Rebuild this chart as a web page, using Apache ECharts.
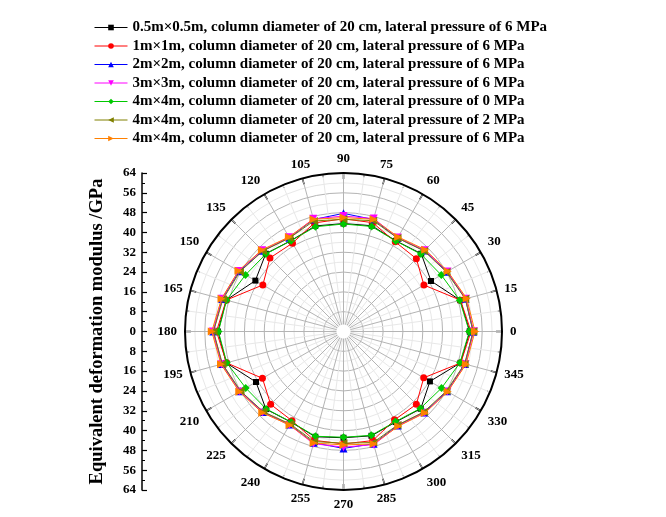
<!DOCTYPE html>
<html>
<head>
<meta charset="utf-8">
<script src="https://cdn.jsdelivr.net/npm/echarts@6/dist/echarts.min.js"></script>
<style>
  html, body { margin: 0; padding: 0; background: #ffffff; }
  #chart { width: 666px; height: 517px; }
</style>
</head>
<body>
<div id="chart"></div>
<script>
// Measurement directions (degrees)
const angles = [0, 15, 30, 45, 60, 75, 90, 105, 120, 135, 150, 165,
                180, 195, 210, 225, 240, 255, 270, 285, 300, 315, 330, 345];

// Equivalent deformation modulus (GPa) for each direction
const s05m_6MPa = [51.0, 48.8, 40.8, 44.4, 42.3, 44.2, 43.6, 44.1, 42.4, 44.4, 41.1, 49.0,
                   50.7, 49.0, 40.8, 44.3, 42.3, 44.0, 42.9, 43.6, 42.2, 44.1, 40.3, 48.9];
const s1m_6MPa   = [51.5, 48.9, 37.5, 41.6, 41.8, 45.5, 45.5, 45.4, 41.2, 42.0, 37.6, 49.0,
                   51.3, 48.9, 37.8, 41.6, 41.6, 45.5, 45.4, 45.6, 41.2, 41.6, 37.4, 49.0];
const s2m_6MPa   = [52.3, 51.0, 48.3, 46.2, 43.6, 46.8, 47.7, 46.8, 43.7, 46.1, 48.6, 50.7,
                   52.6, 50.8, 48.2, 46.0, 43.4, 46.5, 47.2, 46.9, 43.8, 46.2, 48.3, 50.8];
const s3m_6MPa   = [52.6, 51.2, 48.5, 46.4, 43.8, 47.2, 46.6, 47.1, 43.9, 46.4, 48.9, 50.9,
                   52.8, 51.0, 48.4, 46.2, 43.6, 46.9, 46.7, 47.3, 44.0, 46.4, 48.5, 51.0];
const s4m_0MPa   = [50.8, 48.6, 45.6, 44.2, 42.2, 43.9, 43.4, 43.8, 42.3, 44.3, 45.7, 48.9,
                   50.5, 48.8, 45.6, 44.2, 42.2, 43.8, 42.7, 43.4, 42.0, 43.9, 45.7, 48.7];
const s4m_2MPa   = [52.4, 50.9, 48.0, 46.0, 43.6, 46.3, 45.3, 46.2, 43.6, 46.0, 48.3, 50.4,
                   52.5, 50.6, 48.0, 45.8, 43.1, 46.0, 45.1, 46.4, 43.6, 45.9, 48.0, 50.6];
const s4m_6MPa   = [53.1, 51.5, 48.6, 46.7, 44.1, 46.9, 46.0, 46.9, 44.1, 46.6, 49.0, 51.0,
                   53.2, 51.2, 48.6, 46.4, 43.6, 46.6, 45.8, 47.0, 44.2, 46.5, 48.6, 51.2];

const seriesNames = [
  '0.5m×0.5m, column diameter of 20 cm, lateral pressure of 6 MPa',
  '1m×1m, column diameter of 20 cm, lateral pressure of 6 MPa',
  '2m×2m, column diameter of 20 cm, lateral pressure of 6 MPa',
  '3m×3m, column diameter of 20 cm, lateral pressure of 6 MPa',
  '4m×4m, column diameter of 20 cm, lateral pressure of 0 MPa',
  '4m×4m, column diameter of 20 cm, lateral pressure of 2 MPa',
  '4m×4m, column diameter of 20 cm, lateral pressure of 6 MPa'
];
const seriesValues = [s05m_6MPa, s1m_6MPa, s2m_6MPa, s3m_6MPa, s4m_0MPa, s4m_2MPa, s4m_6MPa];

// Radius axis tick values (GPa)
const radiusMax = 64;
const radiusStep = 8;

const colors  = ['#000000', '#FF0000', '#0000FF', '#FF00FF', '#00C800', '#808000', '#FF8000'];
const symbols = ['rect', 'circle', 'triangle', 'triangle', 'diamond', 'triangle', 'triangle'];
const rotates = [0, 0, 0, 180, 0, 90, -90];
const sizes   = [6, 7, 8, 8, 8, 8, 8];

const serif = '"Liberation Serif", "Times New Roman", serif';
const cx = 343.5, cy = 331.5, R = 158.5;

function closedLoop(vals) {
  const pts = vals.map((v, i) => [v, angles[i]]);
  pts.push([vals[0], 360]);
  return pts;
}

const series = seriesValues.map((vals, i) => ({
  name: seriesNames[i],
  type: 'line',
  coordinateSystem: 'polar',
  data: closedLoop(vals),
  symbol: symbols[i],
  symbolRotate: rotates[i],
  symbolSize: sizes[i],
  color: colors[i],
  lineStyle: { width: 1, color: colors[i] },
  itemStyle: { color: colors[i] },
  z: 3 + i
}));

const chart = echarts.init(document.getElementById('chart'), null, { renderer: 'canvas' });
chart.setOption({
  animation: false,
  backgroundColor: '#ffffff',
  legend: {
    orient: 'vertical',
    left: 89,
    top: 15,
    itemWidth: 33,
    itemHeight: 7,
    itemGap: 3.5,
    lineStyle: { width: 1 },
    textStyle: { fontFamily: serif, fontWeight: 'bold', fontSize: 15, color: '#000', lineHeight: 15 },
    data: seriesNames
  },
  polar: { center: [cx, cy], radius: R },
  angleAxis: {
    type: 'value',
    min: 0,
    max: 360,
    interval: 15,
    startAngle: 0,
    clockwise: false,
    axisLine: { lineStyle: { color: '#000', width: 2 } },
    axisTick: { inside: true, length: 6, lineStyle: { color: '#000', width: 1.5 } },
    minorTick: { show: true, splitNumber: 2, length: 3, lineStyle: { color: '#000', width: 1 } },
    axisLabel: {
      formatter: v => (v === 360 ? '' : String(v)),
      fontFamily: serif, fontWeight: 'bold', fontSize: 13, color: '#000', margin: 8
    },
    splitLine: { show: true, lineStyle: { color: '#b4b4b4', width: 1 } },
    minorSplitLine: { show: true, lineStyle: { color: '#e8e8e8', width: 1 } }
  },
  radiusAxis: {
    type: 'value',
    min: 0,
    max: radiusMax,
    interval: radiusStep,
    axisLine: { show: false },
    axisTick: { show: false },
    axisLabel: { show: false },
    minorTick: { show: false, splitNumber: 2 },
    splitLine: { show: true, lineStyle: { color: '#b4b4b4', width: 1 } },
    minorSplitLine: { show: true, lineStyle: { color: '#e8e8e8', width: 1 } }
  },
  grid: { left: 142, top: 173, width: 1, height: 317 },
  xAxis: { type: 'value', show: false, min: 0, max: 1 },
  yAxis: {
    type: 'value',
    min: -radiusMax,
    max: radiusMax,
    interval: radiusStep,
    position: 'left',
    name: 'Equivalent deformation modulus /GPa',
    nameLocation: 'middle',
    nameGap: 35,
    nameTextStyle: { fontFamily: serif, fontWeight: 'bold', fontSize: 18.5, color: '#000' },
    axisLine: { show: true, onZero: false, lineStyle: { color: '#000', width: 1.5 } },
    axisTick: { show: true, inside: true, length: 5, lineStyle: { color: '#000', width: 1.2 } },
    minorTick: { show: true, splitNumber: 2, length: 3, lineStyle: { color: '#000', width: 1 } },
    axisLabel: {
      formatter: v => String(Math.abs(v)),
      fontFamily: serif, fontWeight: 'bold', fontSize: 13, color: '#000', margin: 6
    },
    splitLine: { show: false }
  },
  graphic: [{
    type: 'circle',
    shape: { cx: cx, cy: cy, r: 7 },
    style: { fill: '#ffffff' },
    z: 1
  }],
  series: series
});
</script>
</body>
</html>
